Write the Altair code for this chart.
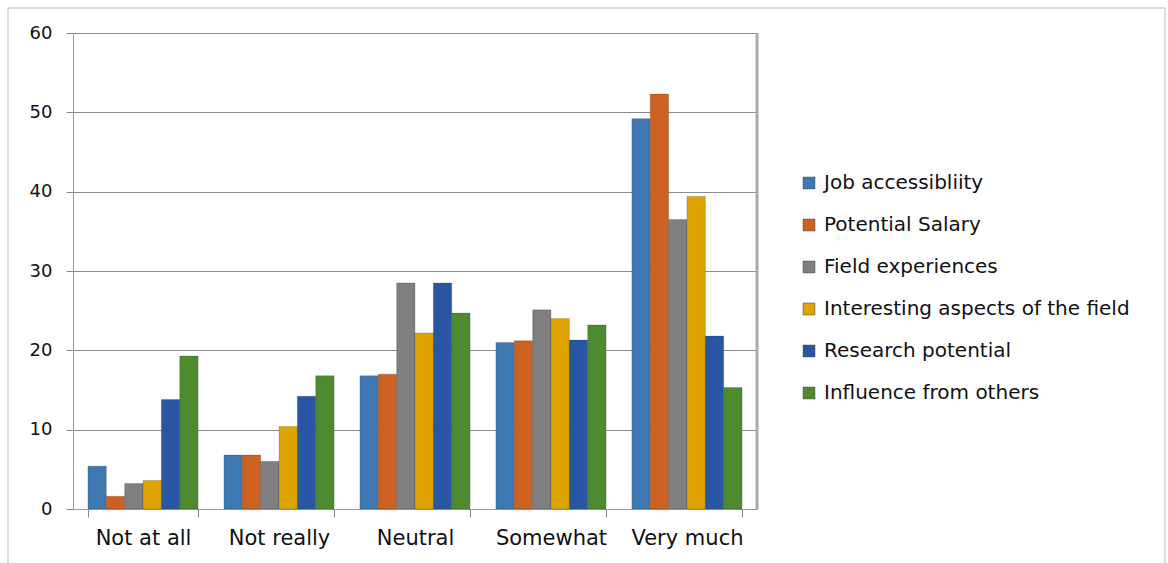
import altair as alt
import pandas as pd

categories = ["Not at all", "Not really", "Neutral", "Somewhat", "Very much"]
series = ["Job accessibliity", "Potential Salary", "Field experiences",
          "Interesting aspects of the field", "Research potential", "Influence from others"]
job = [5.4, 6.8, 16.8, 21.0, 49.2]
salary = [1.6, 6.8, 17.0, 21.2, 52.3]
field = [3.2, 6.0, 28.5, 25.1, 36.5]
interesting = [3.6, 10.4, 22.2, 24.0, 39.4]
research = [13.8, 14.2, 28.5, 21.3, 21.8]
influence = [19.3, 16.8, 24.7, 23.2, 15.3]
colors = ["#3E79B4", "#CD6122", "#7F7F80", "#E0A400", "#2856A3", "#4E8A30"]

rows = []
for s, vals in zip(series, [job, salary, field, interesting, research, influence]):
    for c, v in zip(categories, vals):
        rows.append({"Category": c, "Series": s, "Value": v})
df = pd.DataFrame(rows)

FONT = "DejaVu Sans"

bars = alt.Chart(df).mark_bar(stroke="#222222", strokeWidth=0.4, strokeOpacity=0.5).encode(
    x=alt.X("Category:N", sort=categories, title=None,
            scale=alt.Scale(paddingInner=0.19, paddingOuter=0.11),
            axis=alt.Axis(labelAngle=0, labelFontSize=21, labelColor="#111111",
                          labelFont=FONT, labelPadding=10, tickBand="extent",
                          tickSize=8, tickColor="#888888", domainColor="#999999",
                          grid=False)),
    xOffset=alt.XOffset("Series:N", sort=series),
    y=alt.Y("Value:Q", title=None,
            scale=alt.Scale(domain=[0, 60]),
            axis=alt.Axis(values=[0, 10, 20, 30, 40, 50, 60], labelFontSize=18,
                          labelFont=FONT, labelColor="#111111", labelPadding=14,
                          tickSize=7, tickColor="#888888", domainColor="#999999",
                          gridColor="#8a8a8a", gridWidth=1)),
    color=alt.Color("Series:N", sort=series,
                    scale=alt.Scale(domain=series, range=colors),
                    legend=alt.Legend(title=None, orient="none", legendX=726, legendY=140,
                                      symbolType="square", symbolSize=140,
                                      symbolStrokeWidth=0.5, symbolStrokeColor="#333333",
                                      labelFontSize=20, labelFont=FONT, labelColor="#111111",
                                      labelLimit=500, rowPadding=22, labelOffset=5)),
)

frame = alt.Chart(pd.DataFrame({"a": [0]})).mark_rect(
    fill=None, stroke="#bbbbbb", strokeWidth=1).encode(
    x=alt.value(-65), x2=alt.value(1092), y=alt.value(-25), y2=alt.value(540))

wall = alt.Chart(pd.DataFrame({"a": [0]})).mark_rule(color="#aaaaaa", strokeWidth=3).encode(
    x=alt.value(684), y=alt.value(0), y2=alt.value(476))

chart = alt.layer(frame, wall, bars).properties(
    width=684, height=476,
    autosize=alt.AutoSizeParams(type="none"),
    padding={"left": 73, "top": 33, "right": 411, "bottom": 54},
).configure_view(stroke=None).configure(background="white")

chart.save("out.html", embed_options={"renderer": "svg", "actions": False})
